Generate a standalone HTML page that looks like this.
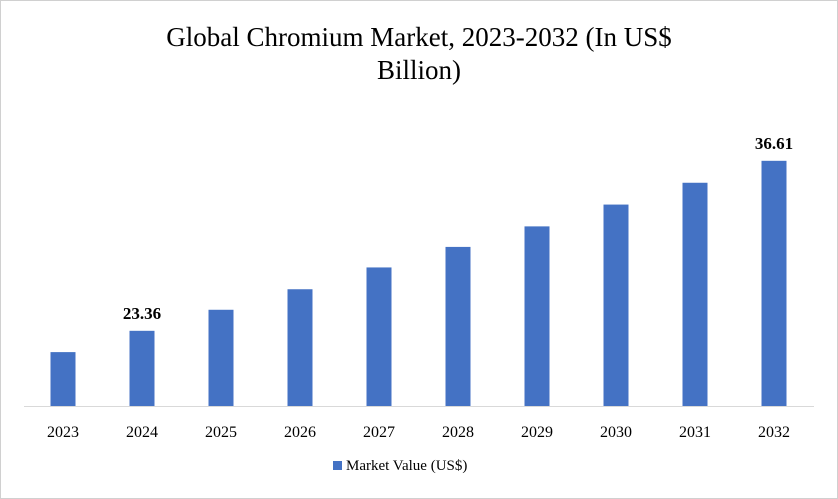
<!DOCTYPE html>
<html><head><meta charset="utf-8"><style>
html,body{margin:0;padding:0;background:#fff;}
svg{display:block;font-family:"Liberation Serif",serif;}
</style></head><body>
<svg width="838" height="499">
<rect x="0.5" y="0.5" width="837" height="498" fill="#fff" stroke="#d0d0d0"/>
<text x="419" y="46" text-anchor="middle" font-size="27" fill="#000">Global Chromium Market, 2023-2032 (In US$</text>
<text x="419" y="79" text-anchor="middle" font-size="27" fill="#000">Billion)</text>
<line x1="24" y1="406.5" x2="814" y2="406.5" stroke="#d9d9d9"/>
<g id="bars"></g>
<rect x="333" y="461" width="9" height="9" fill="#4472c4"/>
<text x="346" y="470" font-size="15" fill="#000">Market Value (US$)</text>
</svg>
<script>
const categories=["2023","2024","2025","2026","2027","2028","2029","2030","2031","2032"];
const values=[21.7,23.36,25.0,26.6,28.3,29.9,31.5,33.2,34.9,36.61];
const labels=["","23.36","","","","","","","","36.61"];
const base=406,vmin=17.5,k=12.83,x0=63,step=79,bw=25;
const yS=v=>base-(v-vmin)*k;
const xS=i=>x0+i*step;
const g=document.getElementById('bars');
const ns="http://www.w3.org/2000/svg";
categories.forEach((c,i)=>{
  const r=document.createElementNS(ns,'rect');
  r.setAttribute('x',xS(i)-bw/2);r.setAttribute('y',yS(values[i]));
  r.setAttribute('width',bw);r.setAttribute('height',base-yS(values[i]));
  r.setAttribute('fill','#4472c4');
  
  
  g.appendChild(r);
  const t=document.createElementNS(ns,'text');
  t.setAttribute('x',xS(i));t.setAttribute('y',437);
  t.setAttribute('text-anchor','middle');t.setAttribute('font-size','16');
  t.textContent=c;
  
  
  g.appendChild(t);
  if(labels[i]){
    const l=document.createElementNS(ns,'text');
    l.setAttribute('x',xS(i));l.setAttribute('y',yS(values[i])-12);
    l.setAttribute('text-anchor','middle');l.setAttribute('font-size','17');
    l.setAttribute('font-weight','bold');
    l.textContent=labels[i];
    
    
    g.appendChild(l);
  }
});
</script>
</body></html>
